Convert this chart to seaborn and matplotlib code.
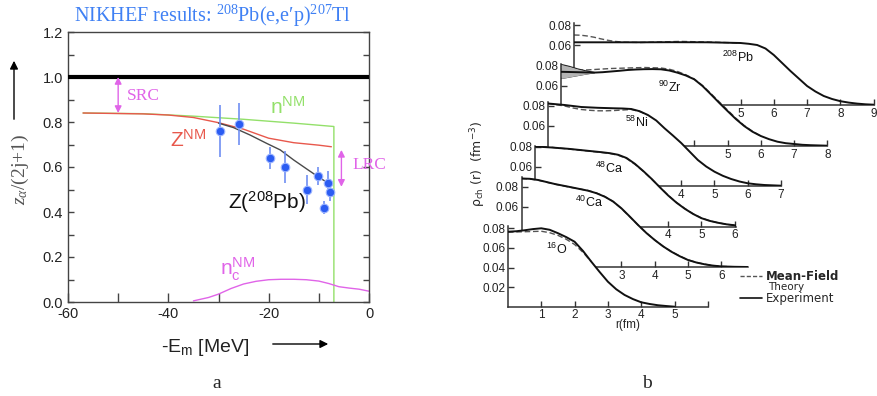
import matplotlib
matplotlib.use("Agg")
import numpy as np
import matplotlib.pyplot as plt
from matplotlib.lines import Line2D
import seaborn as sns

# ---------------- panel a : NIKHEF 208Pb(e,e'p) ----------------
unity = 1.0
nnm_e = [-57, -45, -35, -25, -15, -7.0, -7.0]
nnm_z = [0.840, 0.837, 0.826, 0.812, 0.795, 0.780, 0.0]
znm_e = [-57, -45, -40, -35, -30, -25, -20, -15, -10, -7.5]
znm_z = [0.840, 0.836, 0.831, 0.820, 0.797, 0.768, 0.728, 0.708, 0.697, 0.690]
zpb_e = [-30, -27, -23.7, -20.4, -17.7, -15.0, -12.4, -9.7, -7.7]
zpb_z = [0.795, 0.775, 0.742, 0.705, 0.676, 0.631, 0.591, 0.550, 0.523]
ncnm_e = [-35, -32, -30, -27.5, -25, -22.5, -20, -17.5, -15, -12.5, -10, -8, -6, -4, -2, 0]
ncnm_z = [0.005, 0.020, 0.035, 0.060, 0.080, 0.092, 0.099, 0.101, 0.101, 0.099,
          0.093, 0.082, 0.068, 0.062, 0.057, 0.048]
pb_e = [-29.7, -25.9, -19.8, -16.8, -12.3, -10.1, -9.0, -8.15, -7.8]
pb_z = [0.76, 0.79, 0.64, 0.60, 0.50, 0.56, 0.42, 0.53, 0.49]
pb_err = [0.117, 0.093, 0.050, 0.072, 0.063, 0.042, 0.031, 0.053, 0.042]

# ---------------- panel b : charge densities (fm^-3) ----------------
pb208_r = [0, 1, 2, 3, 4, 5, 5.25, 5.5, 5.75, 6.0, 6.25, 6.5, 6.75, 7.0, 7.25, 7.5,
           7.75, 8.0, 8.25, 8.5, 8.75, 9.0]
pb208_exp = [0.0627, 0.0627, 0.0627, 0.0628, 0.0627, 0.0620, 0.0612, 0.0600, 0.0565,
             0.0500, 0.0420, 0.0340, 0.0265, 0.0190, 0.0135, 0.0090, 0.0060, 0.0038,
             0.0024, 0.0014, 0.0007, 0.0003]
pb208_th_r = [0, 0.2, 0.4, 0.6, 0.8, 1.0, 1.2, 1.5, 2.0, 2.5, 3.2, 4.0, 5.0]
pb208_th = [0.0700, 0.0698, 0.0690, 0.0678, 0.0662, 0.0648, 0.0637, 0.0628, 0.0625,
            0.0630, 0.0636, 0.0630, 0.0620]

zr90_r = [0, 0.5, 1.0, 1.25, 1.5, 1.75, 2.0, 2.25, 2.5, 2.75, 3.0, 3.25, 3.5, 3.75, 4.0,
          4.25, 4.5, 4.75, 5.0, 5.25, 5.5, 5.75, 6.0, 6.25, 6.5, 6.75, 7.0, 7.25, 7.5, 8.0]
zr90_exp = [0.0742, 0.0738, 0.0734, 0.0738, 0.0745, 0.0752, 0.0760, 0.0765, 0.0768,
            0.0769, 0.0767, 0.0755, 0.0733, 0.0705, 0.0667, 0.0600, 0.0517, 0.0432,
            0.0350, 0.0270, 0.0200, 0.0143, 0.0100, 0.0068, 0.0043, 0.0028, 0.0020,
            0.0012, 0.0008, 0.0003]
zr90_th_r = [0, 0.5, 0.75, 1.0, 1.25, 1.5, 2.0, 2.5, 3.0, 3.25, 3.5, 3.75, 4.0, 4.25,
             4.5, 4.75, 5.0, 5.25, 5.5, 5.75, 6.0]
zr90_th = [0.0770, 0.0760, 0.0760, 0.0765, 0.0770, 0.0775, 0.0780, 0.0785, 0.0780,
           0.0768, 0.0745, 0.0712, 0.0670, 0.0605, 0.0525, 0.0442, 0.0360, 0.0278,
           0.0205, 0.0147, 0.0100]
zr90_band_r = [0, 0.25, 0.5, 0.75, 1.0]
zr90_band_hi = [0.0815, 0.0795, 0.0770, 0.0750, 0.0735]
zr90_band_lo = [0.0675, 0.0690, 0.0705, 0.0720, 0.0733]

ni58_r = [0, 0.5, 1.0, 1.5, 2.0, 2.25, 2.5, 2.75, 3.0, 3.25, 3.5, 3.75, 4.0, 4.25, 4.5,
          4.75, 5.0, 5.25, 5.5, 5.75, 6.0, 6.25, 6.5, 7.0]
ni58_exp = [0.0825, 0.0810, 0.0790, 0.0782, 0.0777, 0.0775, 0.0770, 0.0748, 0.0710,
            0.0655, 0.0577, 0.0505, 0.0430, 0.0345, 0.0260, 0.0195, 0.0143, 0.0102,
            0.0070, 0.0045, 0.0027, 0.0017, 0.0010, 0.0003]
ni58_th_r = [0, 0.5, 0.75, 1.0, 1.25, 1.5, 1.75, 2.0, 2.25, 2.5, 2.75, 3.0]
ni58_th = [0.0825, 0.0800, 0.0780, 0.0765, 0.0757, 0.0752, 0.0752, 0.0755, 0.0760,
           0.0765, 0.0745, 0.0710]

ca48_r = [0, 0.5, 1.0, 1.5, 2.0, 2.25, 2.5, 2.75, 3.0, 3.25, 3.5, 3.75, 4.0, 4.25, 4.5,
          4.75, 5.0, 5.25, 5.5, 5.75, 6.05]
ca48_exp = [0.0800, 0.0790, 0.0777, 0.0760, 0.0743, 0.0733, 0.0717, 0.0685, 0.0627,
            0.0555, 0.0477, 0.0392, 0.0310, 0.0238, 0.0177, 0.0125, 0.0083, 0.0056,
            0.0037, 0.0022, 0.0010]
ca48_th = [0.0805, 0.0792, 0.0775, 0.0758, 0.0740, 0.0730, 0.0712, 0.0680, 0.0622,
           0.0552, 0.0475, 0.0393, 0.0312, 0.0240, 0.0180, 0.0127, 0.0085, 0.0057,
           0.0037, 0.0022, 0.0010]

ca40_r = [0, 0.25, 0.5, 0.75, 1.0, 1.5, 2.0, 2.25, 2.5, 2.75, 3.0, 3.25, 3.5, 3.75, 4.0,
          4.25, 4.5, 4.75, 5.0, 5.25, 5.5, 5.75, 6.0, 6.4, 6.8]
ca40_exp = [0.0885, 0.0882, 0.0870, 0.0850, 0.0830, 0.0797, 0.0763, 0.0738, 0.0703,
            0.0655, 0.0587, 0.0505, 0.0420, 0.0340, 0.0270, 0.0207, 0.0153, 0.0108,
            0.0070, 0.0045, 0.0027, 0.0014, 0.0006, 0.0002, 0.0]
ca40_th = [0.0885, 0.0880, 0.0868, 0.0848, 0.0828, 0.0795, 0.0765, 0.0740, 0.0705,
           0.0655, 0.0585, 0.0503, 0.0420, 0.0341, 0.0270, 0.0208, 0.0155, 0.0110,
           0.0072, 0.0046, 0.0028, 0.0014, 0.0006, 0.0002, 0.0]

o16_r = [0, 0.25, 0.5, 0.75, 1.0, 1.25, 1.5, 1.75, 2.0, 2.25, 2.5, 2.75, 3.0, 3.25, 3.5,
         3.75, 4.0, 4.25, 4.5, 4.75, 5.0]
o16_exp = [0.0765, 0.0770, 0.0780, 0.0792, 0.0800, 0.0785, 0.0750, 0.0710, 0.0663,
           0.0570, 0.0460, 0.0355, 0.0255, 0.0178, 0.0120, 0.0078, 0.0045, 0.0028,
           0.0015, 0.0007, 0.0]
o16_th_r = [0, 0.5, 1.0, 1.25, 1.5, 1.75, 2.0, 2.25, 2.5]
o16_th = [0.0760, 0.0765, 0.0770, 0.0755, 0.0728, 0.0688, 0.0635, 0.0555, 0.0460]

GREEN = "#93e06a"
RED = "#e8584c"
MAGENTA = "#e064e8"
BLUE = "#2b5cf2"
EBLUE = "#6f8ff2"
TITLE_BLUE = "#3f80f4"
SERIF = ["Liberation Serif", "DejaVu Serif"]

W, H = 877, 396
sns.set_theme(style="white")
plt.rcParams["font.family"] = ["Liberation Sans", "DejaVu Sans"]
plt.rcParams["mathtext.default"] = "regular"
plt.rcParams["mathtext.fontset"] = "custom"
plt.rcParams["mathtext.rm"] = "Liberation Serif"
plt.rcParams["mathtext.it"] = "Liberation Serif:italic"

fig = plt.figure(figsize=(W / 100, H / 100), dpi=100)


def px_axes(left, top, right, bottom):
    return fig.add_axes([left / W, 1 - bottom / H, (right - left) / W, (bottom - top) / H])


def fx(px):
    return px / W


def fy(py):
    return 1 - py / H


# ================= panel a =================
ax = px_axes(68, 32, 369, 302)
ax.axhline(unity, color="black", lw=3, zorder=3)
sns.lineplot(x=nnm_e, y=nnm_z, ax=ax, color=GREEN, lw=1, sort=False, estimator=None)
sns.lineplot(x=znm_e, y=znm_z, ax=ax, color=RED, lw=1, sort=False, estimator=None)
sns.lineplot(x=zpb_e, y=zpb_z, ax=ax, color="#4a4a4a", lw=1, sort=False, estimator=None)
sns.lineplot(x=ncnm_e, y=ncnm_z, ax=ax, color=MAGENTA, lw=1, sort=False, estimator=None)
ax.errorbar(pb_e, pb_z, yerr=pb_err, fmt="none", ecolor=EBLUE, elinewidth=1.2, zorder=4)
sns.scatterplot(x=pb_e, y=pb_z, ax=ax, s=38, color=BLUE, edgecolor="#9db5ff",
                linewidth=0.8, zorder=5)

ax.set_xlim(-60, 0)
ax.set_ylim(0, 1.2)
ax.set_xticks([-60, -40, -20, 0])
ax.set_xticks([-50, -30, -10], minor=True)
ax.set_yticks(np.arange(0, 1.21, 0.2))
ax.set_yticks(np.arange(0.1, 1.2, 0.2), minor=True)
ax.set_xticklabels(["-60", "-40", "-20", "0"])
ax.set_yticklabels([f"{v:.1f}" for v in np.arange(0, 1.21, 0.2)])
ax.tick_params(axis="both", which="both", direction="in", color="#444444",
               labelsize=10.5, labelcolor="#222222", width=1)
ax.tick_params(axis="y", which="both", right=True, left=True, length=4.5)
ax.tick_params(axis="x", which="both", bottom=True, top=False, length=6.5)
for s in ax.spines.values():
    s.set_color("#444444")
    s.set_linewidth(1)
ax.set_xlabel("")
ax.set_ylabel("")

arrow_m = dict(arrowstyle="<|-|>", color=MAGENTA, lw=1, mutation_scale=10,
               shrinkA=0, shrinkB=0)
ax.annotate("", xy=(-50, 0.84), xytext=(-50, unity), arrowprops=arrow_m)
ax.annotate("", xy=(-5.5, 0.512), xytext=(-5.5, 0.676), arrowprops=arrow_m,
            annotation_clip=False)
ax.text(-48.2, 0.915, "SRC", color=MAGENTA, fontsize=12.5, family=SERIF, va="center")
ax.text(-3.3, 0.61, "LRC", color=MAGENTA, fontsize=12.5, family=SERIF, va="center",
        clip_on=False)
ax.text(-19.8, 0.838, "n$^{NM}$", color=GREEN, fontsize=15)
ax.text(-39.7, 0.69, "Z$^{NM}$", color=RED, fontsize=15)
ax.text(-28.1, 0.416, "Z($^{208}$Pb)", color="#111111", fontsize=15)
ax.text(-29.7, 0.12, "n$_{c}^{NM}$", color=MAGENTA, fontsize=15)

fig.text(fx(213), fy(16), "NIKHEF results: $^{208}$Pb(e,e\u2032p)$^{207}$Tl",
         ha="center", va="center", color=TITLE_BLUE, fontsize=14.5, family=SERIF)
fig.text(fx(20), fy(170), r"$\mathit{z_\alpha}$/(2j+1)", rotation=90, ha="center",
         va="center", fontsize=14, color="#555555", family=SERIF)
fig.add_artist(matplotlib.patches.FancyArrowPatch(
    (fx(14), fy(122)), (fx(14), fy(58)), transform=fig.transFigure,
    arrowstyle="-|>", mutation_scale=12, color="black", lw=1))
fig.text(fx(205), fy(347), "-E$_{m}$ [MeV]", ha="center", va="center", fontsize=14,
         color="#222222")
fig.add_artist(matplotlib.patches.FancyArrowPatch(
    (fx(270), fy(344)), (fx(331), fy(344)), transform=fig.transFigure,
    arrowstyle="-|>", mutation_scale=12, color="black", lw=1))
fig.text(fx(217), fy(384), "a", ha="center", va="center", fontsize=14, family=SERIF)


# ================= panel b =================
def density_axes(x0, y0, xmax, ymax, xt, xl, yt, sx=33.3, sy=1000):
    a = px_axes(x0, y0 - ymax * sy, x0 + xmax * sx, y0)
    a.set_facecolor("none")
    a.set_xlim(0, xmax)
    a.set_ylim(0, ymax)
    for s in ["top", "right"]:
        a.spines[s].set_visible(False)
    for s in ["left", "bottom"]:
        a.spines[s].set_color("#333333")
        a.spines[s].set_linewidth(1.1)
    a.set_xticks(xt, labels=xl)
    a.set_yticks(yt, labels=[f"{v:.2f}" for v in yt])
    a.tick_params(direction="in", length=4, width=1, color="#333333", labelsize=8.5,
                  labelcolor="#222222", pad=2, left=True, bottom=True)
    return a


def draw_density(a, r, rho_exp, r_th, rho_th, label, lx, ly):
    a.fill_between(r, 0, rho_exp, color="white", lw=0, zorder=0.5)
    a.fill_between(r_th, 0, rho_th, color="white", lw=0, zorder=0.5)
    sns.lineplot(x=r_th, y=rho_th, ax=a, color="#555555", lw=1, ls=(0, (4, 2)),
                 sort=False, estimator=None, zorder=2)
    sns.lineplot(x=r, y=rho_exp, ax=a, color="#111111", lw=1.4, sort=False,
                 estimator=None, zorder=3)
    a.text(lx, ly, label, fontsize=9, color="#111111", ha="left", va="center")
    a.set_xlabel("")
    a.set_ylabel("")


yt2 = [0.06, 0.08]
b1 = density_axes(574, 105, 9.0, 0.082, [5, 6, 7, 8, 9], ["5", "6", "7", "8", "9"], yt2)
draw_density(b1, pb208_r, pb208_exp, pb208_th_r, pb208_th, "$^{208}$Pb", 4.45, 0.048)

b2 = density_axes(561, 146, 8.0, 0.082, [4, 5, 6, 7, 8], ["", "5", "6", "7", "8"], yt2)
b2.fill_between(zr90_band_r, 0, zr90_band_hi, color="white", lw=0, zorder=0.5)
draw_density(b2, zr90_r, zr90_exp, zr90_th_r, zr90_th, "$^{90}$Zr", 2.9, 0.059)
b2.fill_between(zr90_band_r, zr90_band_lo, zr90_band_hi, color="#b4b4b4", lw=0, zorder=2.5)
sns.lineplot(x=zr90_band_r, y=zr90_band_hi, ax=b2, color="#222222", lw=1, estimator=None)
sns.lineplot(x=zr90_band_r, y=zr90_band_lo, ax=b2, color="#222222", lw=1, estimator=None)
b2.set_ylabel("")

b3 = density_axes(548, 186, 7.0, 0.084, [4, 5, 6, 7], ["4", "5", "6", "7"], yt2)
draw_density(b3, ni58_r, ni58_exp, ni58_th_r, ni58_th, "$^{58}$Ni", 2.3, 0.064)

b4 = density_axes(535, 226.5, 6.05, 0.081, [4, 5, 6], ["4", "5", "6"], yt2)
draw_density(b4, ca48_r, ca48_exp, ca48_r, ca48_th, "$^{48}$Ca", 1.8, 0.058)

b5 = density_axes(521.5, 267, 6.8, 0.090, [3, 4, 5, 6], ["3", "4", "5", "6"], yt2)
draw_density(b5, ca40_r, ca40_exp, ca40_r, ca40_th, "$^{40}$Ca", 1.6, 0.065)

b6 = density_axes(508, 306.7, 6.0, 0.082, [1, 2, 3, 4, 5, 6],
                  ["1", "2", "3", "4", "5", ""], [0.02, 0.04, 0.06, 0.08], sy=980)
draw_density(b6, o16_r, o16_exp, o16_th_r, o16_th, "$^{16}$O", 1.15, 0.058)

fig.text(fx(628), fy(325), "r(fm)", ha="center", va="center", fontsize=8.5)
fig.text(fx(478), fy(164), "\u03c1$_{ch}$ (r)  (fm$^{-3}$)", rotation=90, ha="center",
         va="center", fontsize=9, family=["DejaVu Sans"])

fig.add_artist(Line2D([fx(740), fx(762)], [fy(276), fy(276)], transform=fig.transFigure,
                      color="#555555", lw=1, ls=(0, (3, 1.5))))
fig.add_artist(Line2D([fx(740), fx(762)], [fy(298), fy(298)], transform=fig.transFigure,
                      color="#111111", lw=1.2))
fig.text(fx(766), fy(276), "Mean-Field", fontsize=8.5, fontweight="bold", va="center",
         family=["DejaVu Sans"])
fig.text(fx(768), fy(287), "Theory", fontsize=7.5, va="center", family=["DejaVu Sans"])
fig.text(fx(766), fy(298.5), "Experiment", fontsize=8.5, va="center", family=["DejaVu Sans"])
fig.text(fx(647), fy(383), "b", ha="center", va="center", fontsize=14, family=SERIF)

fig.savefig("out.png", dpi=100)
